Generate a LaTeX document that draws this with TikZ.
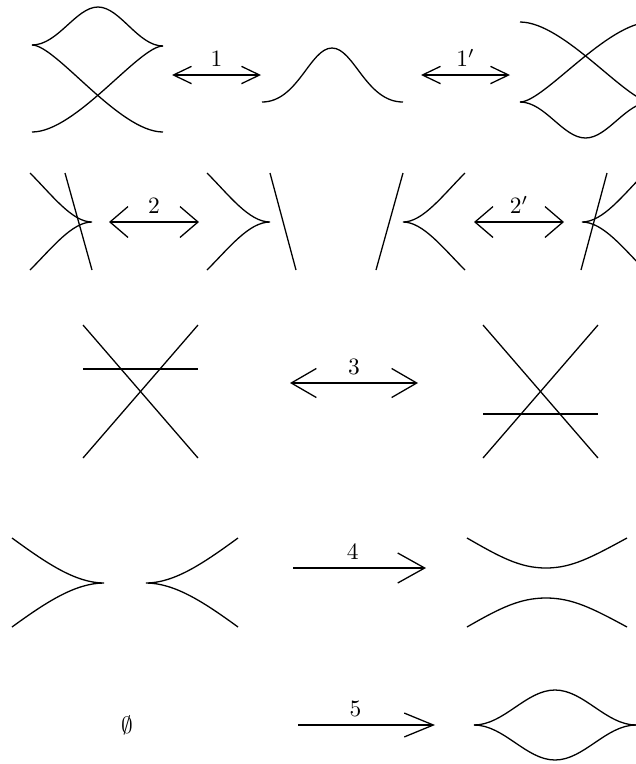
\documentclass[tikz,border=0pt]{standalone}
\usepackage{amsmath, amssymb}
\usetikzlibrary{arrows.meta}

\begin{document}
\begin{tikzpicture}[
    x=0.015cm, y=-0.015cm,
    front/.style={line width=0.55pt},
    twoway/.style 2 args={line width=0.55pt, arrows={Straight Barb[length=#1, width=#2]-Straight Barb[length=#1, width=#2]}},
    oneway/.style 2 args={line width=0.55pt, arrows={-Straight Barb[length=#1, width=#2]}}
]
\useasboundingbox (0,0) rectangle (636,764);
\clip (0,0) rectangle (636,764);

% Move 1 and 1'
\draw[front] (32,45) .. controls (58,45) and (76,7) .. (98,7) .. controls (120,7) and (138,46) .. (163,46);
\draw[front] (32,45) .. controls (56,45) and (119,132) .. (163,132);
\draw[front] (163,46) .. controls (139,46) and (76,132) .. (32,132);

\coordinate (a1s) at (172,75);
\coordinate (a1e) at (261,75);
\draw[twoway={7.7pt}{7.4pt}] (a1s) -- node[above] (l1) {$1$} (a1e);

\draw[front] (262,102) .. controls (298,102) and (310,48) .. (332,48) .. controls (354,48) and (366,102) .. (403,102);

\coordinate (a1ps) at (421,75);
\coordinate (a1pe) at (510,75);
\draw[twoway={7.7pt}{7.4pt}] (a1ps) -- node[above] (l1p) {$1'$} (a1pe);

\draw[front] (520,102) .. controls (545,102) and (563,138) .. (585.5,138) .. controls (608,138) and (626,102) .. (651,102);
\draw[front] (520,102) .. controls (544,102) and (607,22) .. (651,22);
\draw[front] (651,102) .. controls (627,102) and (564,22) .. (520,22);

% Move 2 and 2'
\draw[front] (30,173) .. controls (52,195) and (72,222) .. (92,222) .. controls (72,222) and (52,248) .. (30,270);
\draw[front] (65,173) -- (92,270);

\coordinate (a2s) at (109,222);
\coordinate (a2e) at (199,222);
\draw[twoway={7.7pt}{13.2pt}] (a2s) -- node[above] (l2) {$2$} (a2e);

\draw[front] (207,173) .. controls (229,195) and (249,222) .. (270,222) .. controls (249,222) and (229,248) .. (207,270);
\draw[front] (270,173) -- (296,270);

\draw[front] (465,173) .. controls (443,195) and (423,222) .. (403,222) .. controls (423,222) and (443,248) .. (465,270);
\draw[front] (403,173) -- (376,270);

\coordinate (a2ps) at (474,222);
\coordinate (a2pe) at (564,222);
\draw[twoway={7.7pt}{13.2pt}] (a2ps) -- node[above] (l2p) {$2'$} (a2pe);

\draw[front] (645,173) .. controls (623,195) and (603,222) .. (582,222) .. controls (603,222) and (623,248) .. (645,270);
\draw[front] (607,173) -- (581,270);

% Move 3
\draw[front] (83,325) -- (198,458);
\draw[front] (83,458) -- (198,325);
\draw[front] (83,369) -- (198,369);

\coordinate (a3s) at (290,383);
\coordinate (a3e) at (418,383);
\draw[twoway={10.7pt}{12.4pt}] (a3s) -- node[above] (l3) {$3$} (a3e);

\draw[front] (483,325) -- (598,458);
\draw[front] (483,458) -- (598,325);
\draw[front] (483,414) -- (598,414);

% Move 4
\draw[front] (12,538) .. controls (45,562) and (75,583) .. (104,583) .. controls (75,583) and (45,603) .. (12,627);
\draw[front] (238,538) .. controls (205,562) and (175,583) .. (146,583) .. controls (175,583) and (205,603) .. (238,627);

\coordinate (a4s) at (293,568);
\coordinate (a4e) at (426,568);
\draw[oneway={11.5pt}{12.8pt}] (a4s) -- node[above, pos=0.45] (l4) {$4$} (a4e);

\draw[front] (467,538) .. controls (500,557) and (520,568) .. (546,568) .. controls (572,568) and (592,557) .. (627,538);
\draw[front] (467,627) .. controls (500,608) and (520,598) .. (546,598) .. controls (572,598) and (592,608) .. (627,627);

% Move 5
\node (empty) at (127,725) {$\emptyset$};

\coordinate (a5s) at (298,725);
\coordinate (a5e) at (435,725);
\draw[oneway={12.4pt}{10.2pt}] (a5s) -- node[above, pos=0.42] (l5) {$5$} (a5e);

\draw[front] (474,725) .. controls (504,725) and (526,690) .. (555,690) .. controls (584,690) and (606,725) .. (636,725);
\draw[front] (474,725) .. controls (504,725) and (526,760) .. (555,760) .. controls (584,760) and (606,725) .. (636,725);

\end{tikzpicture}
\end{document}
